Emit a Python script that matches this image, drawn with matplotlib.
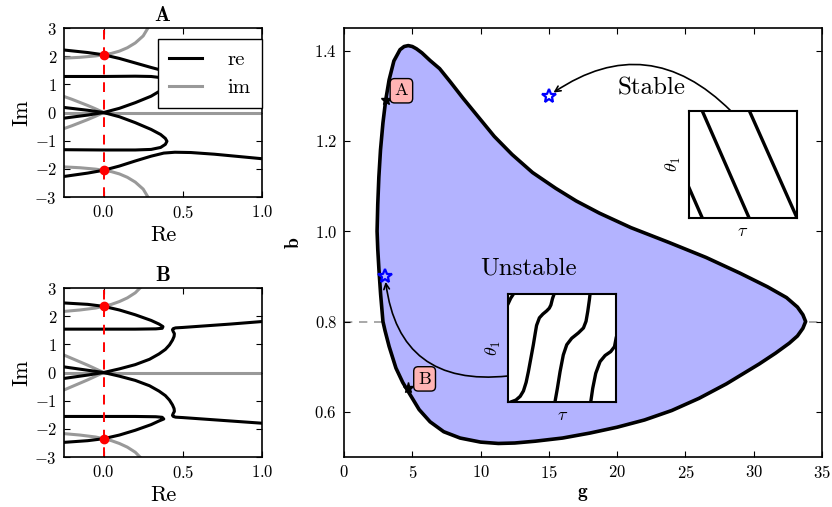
import matplotlib
matplotlib.use("Agg")
from matplotlib import pyplot as plt

plt.rcParams['font.family'] = 'serif'
plt.rcParams['font.serif'] = ['cmr10']
plt.rcParams['mathtext.fontset'] = 'cm'
plt.rcParams['axes.formatter.use_mathtext'] = True

# ---- panel A eigenvalue branches (Re, Im) ----
a_re_top_x = [-0.25, -0.1, 0.0, 0.1, 0.2, 0.3, 0.38, 0.45, 0.55, 0.7, 0.85, 1.0]
a_re_top_y = [2.22, 2.13, 2.05, 1.92, 1.76, 1.6, 1.48, 1.43, 1.43, 1.47, 1.53, 1.6]
a_re_bot_x = [-0.25, -0.1, 0.0, 0.1, 0.2, 0.3, 0.38, 0.45, 0.55, 0.7, 0.85, 1.0]
a_re_bot_y = [-2.27, -2.15, -2.05, -1.9, -1.72, -1.55, -1.44, -1.41, -1.42, -1.48, -1.56, -1.64]
a_re_up_x = [-0.25, -0.1, 0.0, 0.1, 0.2, 0.3, 0.36, 0.39, 0.4, 0.39, 0.36, 0.3, 0.2, 0.0, -0.25]
a_re_up_y = [-0.2, -0.09, 0.0, 0.15, 0.35, 0.58, 0.78, 0.95, 1.05, 1.15, 1.24, 1.28, 1.29, 1.28, 1.28]
a_re_lo_x = [-0.25, -0.1, 0.0, 0.1, 0.2, 0.3, 0.36, 0.39, 0.4, 0.39, 0.36, 0.3, 0.2, 0.0, -0.25]
a_re_lo_y = [0.18, 0.08, 0.0, -0.15, -0.36, -0.6, -0.78, -0.92, -1.02, -1.13, -1.24, -1.31, -1.33, -1.33, -1.32]
a_im_top_x = [-0.25, -0.15, -0.05, 0.0, 0.05, 0.1, 0.15, 0.2, 0.25, 0.28]
a_im_top_y = [1.93, 1.96, 2.01, 2.05, 2.1, 2.18, 2.3, 2.47, 2.72, 3.0]
a_im_bot_x = [-0.25, -0.15, -0.05, 0.0, 0.05, 0.1, 0.15, 0.2, 0.25, 0.28]
a_im_bot_y = [-1.93, -1.96, -2.01, -2.05, -2.1, -2.18, -2.3, -2.47, -2.72, -3.0]
a_im_mid_x = [-0.25, -0.2, -0.15, -0.1, -0.05, 0.0, -0.05, -0.1, -0.15, -0.2, -0.25]
a_im_mid_y = [0.57, 0.47, 0.36, 0.25, 0.13, 0.0, -0.13, -0.25, -0.36, -0.47, -0.57]
a_crossing = [2.05, -2.05]

# ---- panel B eigenvalue branches ----
b_re_top_x = [-0.25, -0.1, 0.0, 0.1, 0.2, 0.3, 0.35, 0.375, 0.37, 0.33, 0.2, 0.0, -0.25]
b_re_top_y = [2.47, 2.42, 2.35, 2.22, 2.05, 1.85, 1.72, 1.63, 1.57, 1.55, 1.54, 1.54, 1.54]
b_re_bot_x = [-0.25, -0.1, 0.0, 0.1, 0.2, 0.3, 0.35, 0.38, 0.37, 0.33, 0.2, 0.0, -0.25]
b_re_bot_y = [-2.48, -2.42, -2.35, -2.22, -2.05, -1.85, -1.72, -1.65, -1.59, -1.57, -1.56, -1.56, -1.56]
b_re_up_x = [-0.25, -0.1, 0.0, 0.1, 0.2, 0.29, 0.35, 0.39, 0.416, 0.435, 0.445, 0.447, 0.44, 0.435,
             0.44, 0.455, 0.5, 0.6, 0.8, 1.0]
b_re_up_y = [-0.21, -0.09, 0.0, 0.13, 0.28, 0.47, 0.66, 0.82, 0.98, 1.15, 1.28, 1.38, 1.45, 1.52,
             1.56, 1.585, 1.6, 1.64, 1.72, 1.81]
b_re_lo_x = [-0.25, -0.1, 0.0, 0.1, 0.2, 0.29, 0.35, 0.39, 0.416, 0.435, 0.445, 0.447, 0.44, 0.435,
             0.44, 0.455, 0.5, 0.6, 0.8, 1.0]
b_re_lo_y = [0.2, 0.08, 0.0, -0.13, -0.28, -0.47, -0.66, -0.82, -0.98, -1.15, -1.28, -1.38, -1.45, -1.52,
             -1.56, -1.585, -1.6, -1.64, -1.72, -1.8]
b_im_top_x = [-0.25, -0.15, -0.05, 0.0, 0.05, 0.1, 0.15, 0.2, 0.23]
b_im_top_y = [2.17, 2.22, 2.29, 2.35, 2.42, 2.52, 2.65, 2.83, 3.0]
b_im_bot_x = [-0.25, -0.15, -0.05, 0.0, 0.05, 0.1, 0.15, 0.2, 0.23]
b_im_bot_y = [-2.17, -2.22, -2.29, -2.35, -2.42, -2.52, -2.65, -2.83, -3.0]
b_im_mid_x = [-0.25, -0.2, -0.15, -0.1, -0.05, 0.0, -0.05, -0.1, -0.15, -0.2, -0.25]
b_im_mid_y = [0.62, 0.5, 0.38, 0.26, 0.13, 0.0, -0.13, -0.26, -0.38, -0.5, -0.62]
b_crossing = [2.35, -2.35]

# ---- stability boundary in (g, b) ----
bnd_g = [2.42, 2.47, 2.55, 2.67, 2.85, 3.05, 3.3, 3.65, 4.1, 4.4, 4.7, 5.0, 5.3, 5.7, 6.3, 7.0,
         7.8, 8.7, 9.7, 11.0, 12.3, 13.8, 15.5, 17.0, 18.7, 21.0, 23.8, 26.5, 29.0, 31.0, 32.4,
         33.2, 33.6, 33.8, 33.6, 33.2, 32.6, 31.6, 30.4, 28.0, 26.0, 24.0, 22.0, 20.0, 18.0, 16.0,
         14.0, 12.5, 11.3, 10.0, 8.5, 7.3, 6.3, 5.5, 4.8, 4.3, 3.8, 3.3, 3.0, 2.85, 2.68, 2.56,
         2.47, 2.42]
bnd_b = [1.0, 1.06, 1.12, 1.18, 1.24, 1.29, 1.335, 1.377, 1.402, 1.409, 1.411, 1.409, 1.404,
         1.395, 1.378, 1.36, 1.33, 1.295, 1.258, 1.21, 1.17, 1.13, 1.095, 1.067, 1.04, 1.008,
         0.975, 0.942, 0.907, 0.877, 0.853, 0.832, 0.815, 0.8, 0.785, 0.768, 0.752, 0.73, 0.706,
         0.662, 0.63, 0.603, 0.582, 0.566, 0.553, 0.542, 0.535, 0.531, 0.53, 0.533, 0.542, 0.556,
         0.578, 0.605, 0.64, 0.665, 0.697, 0.745, 0.78, 0.8, 0.86, 0.913, 0.96, 1.0]

star_blue_g = [15.0, 3.0]
star_blue_b = [1.30, 0.90]
point_a = (3.05, 1.29)
point_b = (4.7, 0.652)
b_ref = 0.8

# ---- inset time traces ----
st_lines = [([0.124, 0.557], [1.0, 0.0]), ([0.56, 1.0], [1.0, 0.0]), ([0.0, 0.124], [0.286, 0.0])]
un1_x = [0.03, 0.07, 0.11, 0.14, 0.165, 0.186, 0.21, 0.232, 0.25, 0.262, 0.288, 0.32, 0.356, 0.38, 0.395, 0.41, 0.424]
un1_y = [0.0, 0.015, 0.05, 0.1, 0.18, 0.28, 0.41, 0.53, 0.64, 0.71, 0.78, 0.815, 0.845, 0.87, 0.9, 0.96, 1.0]
un2_x = [0.433, 0.455, 0.48, 0.51, 0.542, 0.588, 0.65, 0.697, 0.721, 0.737, 0.752, 0.758]
un2_y = [0.0, 0.124, 0.28, 0.435, 0.53, 0.59, 0.64, 0.686, 0.748, 0.84, 0.947, 1.0]
un3_x = [0.765, 0.783, 0.811, 0.851, 0.898, 0.95, 0.985, 1.0]
un3_y = [0.0, 0.124, 0.264, 0.373, 0.43, 0.466, 0.512, 0.59]
un4_x = [0.0, 0.022, 0.046]
un4_y = [0.916, 0.963, 1.0]

fig = plt.figure(figsize=(8.32, 5.07), dpi=100)

def style_ax(ax):
    ax.tick_params(direction='in', top=True, right=True, length=4.5, width=0.8, labelsize=12, pad=5)
    for s in ax.spines.values():
        s.set_linewidth(1.2)

def eig_panel(rect, title, re_curves, im_curves, crossing, legend=False):
    ax = fig.add_axes(rect)
    for x, y in im_curves:
        ax.plot(x, y, color='0.6', lw=2.2)
    ax.plot([-0.25, 1.0], [0, 0], color='0.6', lw=2.2)
    for i, (x, y) in enumerate(re_curves):
        ax.plot(x, y, color='k', lw=2.2, label='re' if i == 0 else None)
    ax.plot([], [], color='0.6', lw=2.2, label='im')
    ax.axvline(0, color='r', ls=(0, (5, 4)), lw=1.4)
    ax.plot([0, 0], crossing, 'o', color='r', mec='r', ms=6)
    ax.set_xlim(-0.25, 1.0)
    ax.set_ylim(-3, 3)
    ax.set_xticks([0.0, 0.5, 1.0])
    ax.set_yticks([-3, -2, -1, 0, 1, 2, 3])
    ax.set_xlabel('Re', fontsize=16, labelpad=3)
    ax.set_ylabel('Im', fontsize=16, labelpad=2)
    ax.set_title(r'$\mathbf{' + title + '}$', fontsize=15, pad=5)
    style_ax(ax)
    if legend:
        leg = ax.legend(loc='upper right', bbox_to_anchor=(1.0, 0.935), borderaxespad=0,
                        fontsize=15, handlelength=1.6, handletextpad=1.2, borderpad=0.55,
                        labelspacing=0.45, fancybox=False, framealpha=1, edgecolor='k')
        leg.get_frame().set_linewidth(1.0)
        leg.set_zorder(5)
    return ax

eig_panel([0.0769, 0.6114, 0.238, 0.3333], 'A',
          [(a_re_top_x, a_re_top_y), (a_re_bot_x, a_re_bot_y), (a_re_up_x, a_re_up_y), (a_re_lo_x, a_re_lo_y)],
          [(a_im_top_x, a_im_top_y), (a_im_bot_x, a_im_bot_y), (a_im_mid_x, a_im_mid_y)],
          a_crossing, legend=True)
eig_panel([0.0769, 0.0986, 0.238, 0.3333], 'B',
          [(b_re_top_x, b_re_top_y), (b_re_bot_x, b_re_bot_y), (b_re_up_x, b_re_up_y), (b_re_lo_x, b_re_lo_y)],
          [(b_im_top_x, b_im_top_y), (b_im_bot_x, b_im_bot_y), (b_im_mid_x, b_im_mid_y)],
          b_crossing)

# main stability diagram
ax = fig.add_axes([0.4135, 0.0986, 0.5745, 0.8462])
ax.axhline(b_ref, color='0.6', ls=(0, (5, 4)), lw=1.2, zorder=1)
ax.fill(bnd_g, bnd_b, facecolor=(0.7, 0.7, 1.0), edgecolor='k', lw=2.6, joinstyle='round', zorder=2)
ax.plot(star_blue_g, star_blue_b, '*', ms=10, mfc='none', mec='b', mew=1.6, zorder=4)
ax.plot([point_a[0], point_b[0]], [point_a[1], point_b[1]], '*', color='k', ms=8, zorder=4)
box = dict(boxstyle='round,pad=0.25', fc=(1.0, 0.7, 0.7), ec='k', lw=1.0)
ax.text(point_a[0] + 1.15, point_a[1] + 0.021, 'A', fontsize=13, ha='center', va='center', bbox=box, zorder=5)
ax.text(point_b[0] + 1.2, point_b[1] + 0.021, 'B', fontsize=13, ha='center', va='center', bbox=box, zorder=5)
ax.text(13.5, 0.918, 'Unstable', fontsize=18, ha='center', va='center')
ax.text(22.5, 1.317, 'Stable', fontsize=18, ha='center', va='center')
ax.set_xlim(0, 35)
ax.set_ylim(0.5, 1.45)
ax.set_xticks([0, 5, 10, 15, 20, 25, 30, 35])
ax.set_yticks([0.6, 0.8, 1.0, 1.2, 1.4])
ax.set_xlabel(r'$\mathbf{g}$', fontsize=14, labelpad=3)
ax.set_ylabel(r'$\mathbf{b}$', fontsize=14, labelpad=8)
style_ax(ax)

ax.annotate('', xy=(star_blue_g[0], star_blue_b[0]), xycoords='data',
            xytext=(0.8786, 0.781), textcoords='figure fraction',
            arrowprops=dict(arrowstyle='->', connectionstyle='arc3,rad=0.42', lw=1.2,
                            color='k', shrinkA=0, shrinkB=4), annotation_clip=False)
ax.annotate('', xy=(star_blue_g[1], star_blue_b[1]), xycoords='data',
            xytext=(0.6106, 0.2584), textcoords='figure fraction',
            arrowprops=dict(arrowstyle='->', connectionstyle='arc3,rad=-0.5', lw=1.2,
                            color='k', shrinkA=0, shrinkB=4), annotation_clip=False)

def inset(rect, curves):
    ia = fig.add_axes(rect)
    for x, y in curves:
        ia.plot(x, y, color='k', lw=2.4)
    ia.set_xlim(0, 1)
    ia.set_ylim(0, 1)
    ia.set_xticks([])
    ia.set_yticks([])
    ia.set_xlabel(r'$\tau$', fontsize=13, labelpad=4)
    ia.set_ylabel(r'$\theta_1$', fontsize=13, labelpad=4)
    for s in ia.spines.values():
        s.set_linewidth(1.5)
    return ia

inset([0.828, 0.570, 0.130, 0.211], st_lines)
inset([0.611, 0.2077, 0.1295, 0.212],
      [(un1_x, un1_y), (un2_x, un2_y), (un3_x, un3_y), (un4_x, un4_y)])

fig.savefig('out.png', dpi=100)
